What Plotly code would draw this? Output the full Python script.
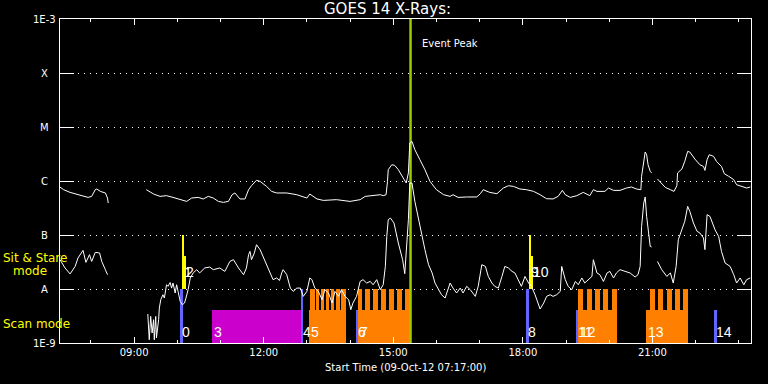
import plotly.graph_objects as go
import pandas as pd
import math

DAY = "2012-10-09 "
X_START = "07:17:00"
X_END = "23:17:00"

# ---------------- GOES long channel (1-8 A) ----------------
long_time = [
    "07:17", "07:22", "07:31", "07:40", "07:49", "07:56", "08:01", "08:06", "08:08", "08:13", "08:20", "08:23", "08:24",
    None,
    "09:17", "09:27", "09:36", "09:45", "09:54", "10:04", "10:13", "10:20", "10:29", "10:36", "10:43", "10:50", "10:57",
    "11:04", "11:11", "11:16", "11:20", "11:27", "11:34", "11:39", "11:43", "11:50", "11:55", "12:04", "12:11", "12:18",
    "12:32", "12:46", "13:00", "13:04", "13:14", "13:23", "13:41", "14:00", "14:14", "14:21", "14:28", "14:42", "14:46",
    "14:50", "14:52", "14:53", "14:58", "15:02", "15:07", "15:14", "15:18", "15:21", "15:23", "15:26", "15:30", "15:37",
    "15:44", "15:51", "16:00", "16:10", "16:19", "16:23", "16:30", "16:42", "16:56", "17:01", "17:05", "17:14", "17:24",
    "17:33", "17:40", "17:47", "17:56", "18:05", "18:15", "18:24", "18:33", "18:42", "18:49", "18:55", "18:59", "19:06",
    "19:15", "19:24", "19:33", "19:38", "19:43", "19:54", "19:59", "20:06", "20:15", "20:24", "20:31", "20:38", "20:44",
    "20:45", "20:48", "20:50", "20:52", "20:54", "20:57", "20:59",
    None,
    "21:07", "21:11", "21:18", "21:25", "21:30", "21:34", "21:35", "21:41", "21:45", "21:49", "21:52", "21:59", "22:06",
    "22:11", "22:13", "22:16", "22:19", "22:25", "22:29", "22:36", "22:40", "22:46", "22:53", "22:57", "23:04", "23:11",
    "23:16",
]
long_flux = [
    7.7e-7, 6.9e-7, 6.15e-7, 5.74e-7, 5.19e-7, 4.97e-7, 5.19e-7, 6.9e-7, 7.11e-7, 6.42e-7, 6.0e-7, 4.84e-7, 3.91e-7,
    None,
    6.9e-7, 5.74e-7, 5.19e-7, 5.35e-7, 4.97e-7, 4.51e-7, 4.19e-7, 4.84e-7, 4.97e-7, 4.65e-7, 5.19e-7, 4.84e-7, 4.19e-7,
    4.02e-7, 4.19e-7, 5.57e-7, 6.0e-7, 4.65e-7, 4.65e-7, 6.9e-7, 8.18e-7, 1.03e-6, 9.84e-7, 7.94e-7, 6.42e-7, 6.0e-7,
    6.0e-7, 5.57e-7, 4.84e-7, 5.74e-7, 4.65e-7, 4.37e-7, 4.51e-7, 4.19e-7, 4.51e-7, 5.19e-7, 5.35e-7, 5.57e-7, 5.35e-7,
    5.57e-7, 9.84e-7, 1.62e-6, 2.0e-6, 1.95e-6, 1.62e-6, 1.14e-6, 9.18e-7, 1.41e-6, 5.06e-6, 5.41e-6, 3.8e-6, 2.48e-6,
    1.62e-6, 9.84e-7, 6.9e-7, 5.57e-7, 5.19e-7, 5.57e-7, 4.97e-7, 5.06e-7, 5.06e-7, 5.82e-7, 6.9e-7, 6.15e-7, 5.82e-7,
    7.41e-7, 8.18e-7, 7.94e-7, 7.11e-7, 6.9e-7, 6.42e-7, 5.57e-7, 4.7e-7, 4.65e-7, 5.19e-7, 6.7e-7, 5.57e-7, 4.97e-7,
    5.35e-7, 6.15e-7, 5.35e-7, 6.9e-7, 6.42e-7, 6.42e-7, 7.41e-7, 6.7e-7, 6.7e-7, 7.41e-7, 7.74e-7, 7.11e-7, 6.9e-7,
    1.22e-6, 2.48e-6, 3.44e-6, 3.07e-6, 2.0e-6, 1.51e-6, 1.41e-6,
    None,
    1.09e-6, 9.42e-7, 7.6e-7, 6.9e-7, 6.42e-7, 8.18e-7, 1.41e-6, 1.67e-6, 2.31e-6, 3.53e-6, 3.44e-6, 2.55e-6, 2.0e-6,
    1.86e-6, 1.57e-6, 2.48e-6, 3.07e-6, 2.86e-6, 2.31e-6, 1.86e-6, 1.36e-6, 1.22e-6, 1.06e-6, 8.53e-7, 7.94e-7, 7.41e-7,
    7.74e-7,
]

# ---------------- GOES short channel (0.5-4 A) ----------------
short_time = [
    "07:17", "07:24", "07:31", "07:38", "07:42", "07:49", "07:53", "07:58", "08:01", "08:06", "08:12", "08:15", "08:20", "08:23",
    None,
    "09:19", "09:21", "09:23", "09:25", "09:27", "09:28", "09:30", "09:31", "09:34", "09:35", "09:37", "09:40", "09:42",
    "09:45", "09:47", "09:50", "09:52", "09:54", "09:57", "09:59", "10:01", "10:04", "10:07", "10:10", "10:12", "10:15",
    "10:18", "10:22", "10:27", "10:31", "10:38", "10:45", "10:50", "10:59", "11:06", "11:13", "11:18", "11:25", "11:32",
    "11:36", "11:39", "11:41", "11:43", "11:47", "11:50", "11:55", "12:00", "12:04", "12:09", "12:13", "12:18", "12:22",
    "12:25", "12:27", "12:32", "12:37", "12:41", "12:46", "12:51", "12:55", "13:00", "13:04", "13:07", "13:11", "13:16",
    "13:21", "13:25", "13:30", "13:35", "13:39", "13:44", "13:48", "13:53", "13:58", "14:01", "14:04", "14:09", "14:14",
    "14:18", "14:23", "14:28", "14:32", "14:37", "14:42", "14:46", "14:49", "14:51", "14:53", "14:56", "15:01", "15:07",
    "15:13", "15:16", "15:18", "15:21", "15:23", "15:26", "15:30", "15:35", "15:40", "15:44", "15:49", "15:54", "15:58",
    "16:03", "16:07", "16:12", "16:19", "16:23", "16:28", "16:33", "16:37", "16:42", "16:47", "16:54", "16:58", "17:03",
    "17:08", "17:12", "17:17", "17:21", "17:26", "17:31", "17:35", "17:40", "17:45", "17:49", "17:54", "17:58", "18:03",
    "18:08", "18:12", "18:17", "18:24", "18:29", "18:33", "18:38", "18:42", "18:47", "18:52", "18:54", "18:59", "19:03",
    "19:08", "19:13", "19:17", "19:22", "19:26", "19:31", "19:36", "19:38", "19:43", "19:47", "19:52", "19:57", "20:01",
    "20:06", "20:10", "20:15", "20:22", "20:29", "20:36", "20:40", "20:43", "20:45", "20:48", "20:50", "20:52", "20:54",
    "20:57", "20:59",
    None,
    "21:07", "21:13", "21:20", "21:25", "21:29", "21:33", "21:36", "21:41", "21:45", "21:49", "21:52", "21:57", "22:02",
    "22:06", "22:11", "22:13", "22:16", "22:20", "22:27", "22:32", "22:36", "22:41", "22:48", "22:53", "22:57", "23:02",
    "23:07", "23:11", "23:16",
]
short_flux = [
    3.49e-8, 2.45e-8, 1.9e-8, 2.62e-8, 3.75e-8, 5.19e-8, 3.11e-8, 4.32e-8, 3.24e-8, 4.77e-8, 4.65e-8, 3.24e-8, 2.28e-8, 1.84e-8,
    None,
    3.44e-9, 1.15e-9, 3.11e-9, 1.53e-9, 2.7e-9, 1.15e-9, 3.11e-9, 1.24e-9, 2.7e-9, 4.45e-9, 6.34e-9, 7.84e-9, 6.8e-9,
    1.2e-8, 1.12e-8, 1.32e-8, 1.04e-8, 1.29e-8, 8.43e-9, 1.2e-8, 9.03e-9, 5.89e-9, 5.12e-9, 5.5e-9, 6.8e-9, 9.7e-9,
    1.6e-8, 1.98e-8, 2.28e-8, 1.98e-8, 2.45e-8, 2.55e-8, 2.28e-8, 2.45e-8, 2.12e-8, 3.24e-8, 3.49e-8, 2.45e-8, 1.84e-8,
    2.45e-8, 4.32e-8, 4.97e-8, 3.49e-8, 4.65e-8, 6.61e-8, 5.35e-8, 3.75e-8, 2.82e-8, 2.12e-8, 1.49e-8, 1.6e-8, 1.44e-8,
    1.98e-8, 2.28e-8, 1.84e-8, 1.04e-8, 9.03e-9, 1.04e-8, 1.04e-8, 7.3e-9, 9.03e-9, 1.6e-8, 1.49e-8, 1.04e-8, 9.03e-9,
    6.34e-9, 9.7e-9, 8.43e-9, 5.5e-9, 9.03e-9, 7.3e-9, 9.7e-9, 7.3e-9, 6.34e-9, 4.14e-9, 5.5e-9, 7.3e-9, 1.38e-8,
    1.49e-8, 1.29e-8, 1.38e-8, 1.2e-8, 1.49e-8, 9.7e-9, 1.2e-8, 2.62e-8, 9.42e-8, 1.92e-7, 2.06e-7, 1.67e-7, 7.11e-8,
    3.49e-8, 1.92e-8, 4.65e-8, 1.92e-7, 9.18e-7, 9.18e-7, 4.19e-7, 1.92e-7, 1.01e-7, 5.35e-8, 2.82e-8, 1.98e-8, 1.29e-8,
    9.7e-9, 7.84e-9, 6.8e-9, 1.29e-8, 1.04e-8, 8.43e-9, 1.04e-8, 8.43e-9, 1.12e-8, 9.7e-9, 7.3e-9, 1.12e-8, 2.82e-8,
    2.62e-8, 1.71e-8, 1.29e-8, 1.12e-8, 1.04e-8, 1.71e-8, 2.62e-8, 2.45e-8, 2.12e-8, 1.98e-8, 1.38e-8, 1.12e-8, 1.71e-8,
    1.29e-8, 1.12e-8, 7.84e-9, 4.26e-9, 5.5e-9, 7.3e-9, 7.84e-9, 7.3e-9, 7.84e-9, 9.03e-9, 2.62e-8, 1.49e-8, 1.12e-8,
    9.7e-9, 1.38e-8, 1.2e-8, 1.6e-8, 1.29e-8, 1.49e-8, 1.71e-8, 3.49e-8, 1.98e-8, 1.84e-8, 1.38e-8, 1.98e-8, 2.12e-8,
    1.6e-8, 1.98e-8, 2.28e-8, 2.12e-8, 1.98e-8, 1.67e-8, 1.84e-8, 2.62e-8, 1.44e-7, 3.92e-7, 5.06e-7, 2.21e-7, 1.25e-7,
    6.15e-8, 6.0e-8,
    None,
    3.24e-8, 2.28e-8, 1.71e-8, 1.98e-8, 1.29e-8, 2.62e-8, 8.18e-8, 1.25e-7, 1.79e-7, 3.39e-7, 2.74e-7, 1.67e-7, 1.17e-7,
    1.09e-7, 8.8e-8, 5.35e-8, 2.38e-7, 2.21e-7, 1.25e-7, 9.42e-8, 4.97e-8, 3.03e-8, 2.62e-8, 1.84e-8, 1.29e-8, 1.6e-8,
    1.2e-8, 1.49e-8, 1.6e-8,
]

# ---------------- Observing events ----------------
event_label = ["0", "1", "2", "3", "4", "5", "6", "7", "8", "9", "10", "11", "12", "13", "14"]
event_start = ["10:03:45", "10:06:00", "10:09:30", "10:47:50", "12:51:55", "13:03:00", "14:08:20", "14:10:40",
               "18:04:30", "18:08:40", "18:11:30", "19:14:00", "19:16:20", "20:51:10", "22:26:10"]
event_end = ["10:07:55", "10:09:30", "10:11:15", "12:51:55", "12:55:00", "13:54:00", "14:10:40", "15:23:20",
             "18:08:40", "18:11:30", "18:13:00", "19:16:20", "20:10:30", "21:49:10", "22:29:55"]
event_kind = ["ref", "sit", "sit", "raster", "ref", "scan", "ref", "scan",
              "ref", "sit", "sit", "ref", "scan", "scan", "ref"]
event_low = [1e-9, 1e-8, 1e-8, 1e-9, 1e-9, 1e-9, 1e-9, 1e-9, 1e-9, 1e-8, 1e-8, 1e-9, 1e-9, 1e-9, 1e-9]
event_high = [1e-8, 1e-7, 4e-8, 4e-9, 1e-8, 4e-9, 4e-9, 4e-9, 1e-8, 1e-7, 4e-8, 4e-9, 4e-9, 4e-9, 4e-9]

# exposures inside the scan blocks (drawn from 4e-9 up to 1e-8)
exposure_start = [
    "13:05:00", "13:13:00", "13:19:30", "13:26:00", "13:33:00", "13:40:00", "13:47:30",
    "14:10:40", "14:20:50", "14:31:50", "14:43:00", "14:54:10", "15:05:20", "15:16:20",
    "19:16:20", "19:28:55", "19:40:25", "19:51:55", "20:03:35",
    "20:56:50", "21:08:20", "21:20:00", "21:31:30", "21:43:05",
]
exposure_end = [
    "13:11:00", "13:17:30", "13:24:00", "13:31:00", "13:38:00", "13:45:30", "13:54:00",
    "14:17:10", "14:27:40", "14:38:50", "14:49:50", "15:01:10", "15:12:10", "15:23:20",
    "19:24:05", "19:35:50", "19:47:20", "19:58:55", "20:10:30",
    "21:03:40", "21:15:20", "21:26:55", "21:38:30", "21:49:10",
]
exposure_low = 4e-9
exposure_high = 1e-8

event_peak = "15:24:00"

y_tick_vals = [1e-3, 1e-4, 1e-5, 1e-6, 1e-7, 1e-8, 1e-9]
y_tick_text = ["1E-3", "X", "M", "C", "B", "A", "1E-9"]
x_tick_vals = ["09:00", "12:00", "15:00", "18:00", "21:00"]

KIND_COLOR = {"ref": "#6464ff", "sit": "#ffff00", "raster": "#cc00cc", "scan": "#ff8000"}


def ts(hm):
    if hm is None:
        return None
    if len(hm) == 5:
        hm = hm + ":00"
    return DAY + hm


# pixel helpers for text placement (plot area 60..751 x 19..343)
PL, PR, PT, PB = 60, 751, 19, 343


def pxx(x):
    return (x - PL) / (PR - PL)


def pyy(y):
    return (PB - y) / (PB - PT)


fig = go.Figure()


def add_rects(starts, ends, lows, highs, color):
    s = pd.to_datetime([ts(v) for v in starts])
    e = pd.to_datetime([ts(v) for v in ends])
    centers = s + (e - s) / 2
    widths = [(b - a).total_seconds() * 1000 for a, b in zip(s, e)]
    fig.add_trace(go.Bar(
        x=centers, y=[h - l for l, h in zip(lows, highs)], base=lows, width=widths,
        marker=dict(color=color, line=dict(width=0)), showlegend=False, hoverinfo="skip",
    ))


for kind in ["raster", "scan", "ref", "sit"]:
    idx = [i for i, k in enumerate(event_kind) if k == kind]
    add_rects([event_start[i] for i in idx], [event_end[i] for i in idx],
              [event_low[i] for i in idx], [event_high[i] for i in idx], KIND_COLOR[kind])

add_rects(exposure_start, exposure_end, [exposure_low] * len(exposure_start),
          [exposure_high] * len(exposure_start), KIND_COLOR["scan"])

# event peak line
fig.add_trace(go.Scatter(
    x=[ts(event_peak), ts(event_peak)], y=[1e-9, 1e-3], mode="lines",
    line=dict(color="#99cc00", width=2.5), showlegend=False, hoverinfo="skip",
))

for tt, vv in [(long_time, long_flux), (short_time, short_flux)]:
    fig.add_trace(go.Scatter(
        x=[ts(t) for t in tt], y=vv, mode="lines",
        line=dict(color="white", width=1), connectgaps=False, showlegend=False, hoverinfo="skip",
    ))

annotations = []
LABEL_FONT = dict(family="Liberation Sans", size=14, color="white")
for lab, st, kind in zip(event_label, event_start, event_kind):
    ylev = -7.68 if kind == "sit" else -8.79
    annotations.append(dict(x=ts(st), y=ylev, xref="x", yref="y", text=lab, showarrow=False,
                            xanchor="left", yanchor="middle", font=LABEL_FONT))

AX_FONT = dict(family="DejaVu Sans", size=10, color="white")
for v, t in zip(y_tick_vals, y_tick_text):
    annotations.append(dict(x=pxx(44), y=math.log10(v), xref="paper", yref="y", text=t, showarrow=False,
                            xanchor="center", yanchor="middle", font=AX_FONT))

YEL = dict(family="DejaVu Sans", size=12, color="#ffff00")
annotations += [
    dict(x=pxx(1), y=pyy(258), xref="paper", yref="paper", text="Sit & Stare", showarrow=False,
         xanchor="left", yanchor="middle", font=YEL),
    dict(x=pxx(11), y=pyy(271), xref="paper", yref="paper", text="mode", showarrow=False,
         xanchor="left", yanchor="middle", font=YEL),
    dict(x=pxx(1), y=pyy(324), xref="paper", yref="paper", text="Scan mode", showarrow=False,
         xanchor="left", yanchor="middle", font=YEL),
    dict(x=pxx(387), y=pyy(9), xref="paper", yref="paper", text="GOES 14 X-Rays:", showarrow=False,
         xanchor="center", yanchor="middle", font=dict(family="DejaVu Sans", size=15, color="white")),
    dict(x=pxx(420), y=pyy(43), xref="paper", yref="paper", text="Event Peak", showarrow=False,
         xanchor="left", yanchor="middle", font=AX_FONT),
    dict(x=pxx(405), y=pyy(368), xref="paper", yref="paper", text="Start Time (09-Oct-12 07:17:00)",
         showarrow=False, xanchor="center", yanchor="middle", font=AX_FONT),
]

fig.update_layout(
    width=768, height=384,
    margin=dict(l=PL, r=768 - PR, t=PT, b=384 - PB, pad=0),
    paper_bgcolor="black", plot_bgcolor="black",
    barmode="overlay", bargap=0,
    annotations=annotations,
    xaxis=dict(
        type="date", range=[ts(X_START), ts(X_END)],
        tickvals=[ts(v) for v in x_tick_vals], tickformat="%H:%M",
        ticks="inside", ticklen=6, tickcolor="white", tickwidth=1,
        minor=dict(ticks="inside", ticklen=3, dtick=3600000, tick0=DAY + "00:00:00", tickcolor="white",
                   showgrid=False),
        showline=True, linecolor="white", linewidth=1, mirror="ticks",
        showgrid=False, zeroline=False, tickfont=AX_FONT,
    ),
    yaxis=dict(
        type="log", range=[-9, -3],
        tickvals=y_tick_vals, showticklabels=False,
        ticks="inside", ticklen=14, tickcolor="white", tickwidth=1,
        showline=True, linecolor="white", linewidth=1, mirror="ticks",
        showgrid=True, gridcolor="white", gridwidth=1, griddash="1px,5px",
        zeroline=False,
    ),
)

fig.write_html(
    "out.html",
    config={"displayModeBar": False},
    post_script="document.body.style.margin='0px';document.body.style.background='black';",
)
